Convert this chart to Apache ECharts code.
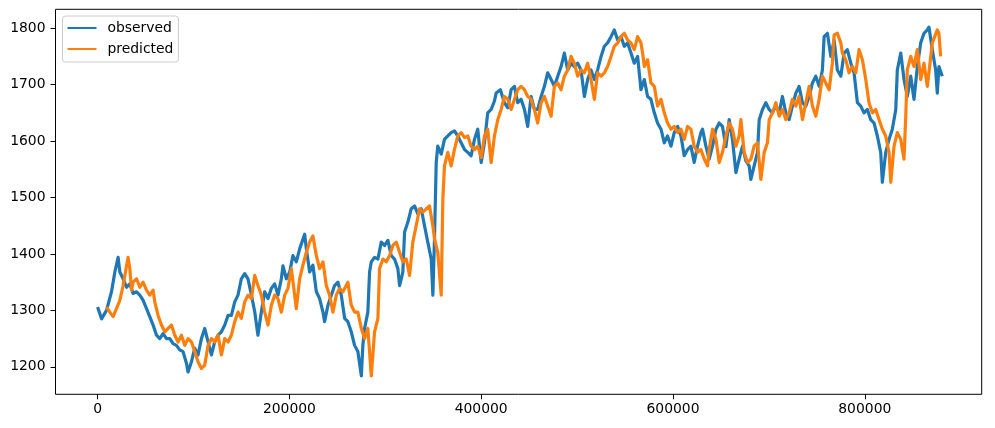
<!DOCTYPE html>
<html>
<head>
<meta charset="utf-8">
<script src="https://cdn.jsdelivr.net/npm/echarts@6/dist/echarts.min.js"></script>
<style>
html,body{margin:0;padding:0;background:#fff;}
#chart{width:995px;height:428px;}
</style>
</head>
<body>
<div id="chart"></div>
<script>
var seriesNames = ['observed', 'predicted'];
var xTicks = [0, 200000, 400000, 600000, 800000];
var yTicks = [1200, 1300, 1400, 1500, 1600, 1700, 1800];

var obsX = [0,4100,9300,14500,18000,21400,23200,26600,30200,33600,37000,40600,44000,47400,51000,54400,57900,61400,64800,68300,71800,75300,78700,82200,85700,89100,92700,94300,97900,101300,104700,108300,111700,115200,118700,122100,125600,129100,132600,136000,139500,143000,146400,149900,153400,156800,160400,163800,167200,170800,174200,177700,181200,184600,188100,191600,193300,196800,200300,203700,207200,210700,215900,217700,221100,224500,228100,231500,235000,236700,240200,243700,247100,250600,254100,257600,261000,264500,268000,271400,275000,276600,278400,281800,283600,285400,288800,292300,295800,299200,302700,306200,309600,313100,314900,318300,320100,323500,327000,330500,333900,337500,340900,344300,347900,349600,351300,353100,354700,358300,361700,365200,368700,372100,375600,379100,382600,386000,389500,393000,396400,400000,403400,406800,410400,413800,415600,420000,424200,427700,431200,434700,438100,441600,445100,448500,452000,455500,458900,462500,465900,469300,472900,476300,479800,483300,486700,490200,493700,497100,500600,504100,507600,511000,514500,518000,521400,525000,528400,531800,535400,538800,542300,545800,549200,552700,556200,559600,563100,566600,570100,573500,577000,580500,583900,587500,590900,594300,597900,601300,604800,608300,611700,615200,618700,622100,625600,629100,630800,634300,637700,641200,644800,648200,651600,655200,658600,662000,665600,669000,672500,676000,679400,681200,684600,688100,689900,693300,696800,700300,703700,707300,710700,714100,717700,721100,724500,728100,731500,735000,738500,742000,745400,748900,752400,755800,757600,761000,764600,768000,771400,775000,778400,781800,785400,788800,792300,795800,799200,802700,806200,809700,813100,816600,818300,821800,825300,828700,832300,833900,837500,840900,844300,847900,851300,854800,858300,861700,865200,866900,870400,873900,875600,877300,880800];
var obsY = [1306,1285,1300,1333,1368,1394,1368,1356,1341,1347,1330,1333,1327,1318,1303,1289,1274,1256,1250,1259,1250,1250,1241,1238,1230,1227,1206,1191,1209,1233,1221,1250,1268,1244,1221,1244,1256,1262,1274,1291,1291,1315,1327,1356,1365,1356,1327,1298,1256,1298,1333,1321,1339,1347,1327,1356,1379,1356,1368,1397,1386,1409,1435,1409,1368,1380,1333,1321,1297,1280,1309,1327,1344,1350,1327,1286,1280,1262,1238,1227,1184,1238,1268,1297,1368,1386,1394,1391,1421,1415,1424,1397,1391,1374,1344,1368,1439,1456,1480,1485,1471,1480,1450,1421,1391,1327,1427,1562,1591,1577,1603,1609,1615,1618,1609,1597,1585,1580,1574,1603,1621,1562,1597,1650,1656,1671,1685,1691,1668,1659,1691,1697,1668,1674,1656,1626,1679,1656,1656,1679,1697,1721,1709,1697,1715,1732,1756,1726,1738,1732,1738,1726,1679,1709,1726,1709,1726,1750,1768,1774,1785,1797,1779,1785,1768,1774,1756,1738,1750,1691,1709,1679,1674,1650,1632,1621,1597,1609,1591,1615,1626,1609,1574,1585,1591,1562,1591,1615,1621,1591,1568,1591,1621,1632,1626,1590,1638,1603,1544,1568,1591,1565,1556,1532,1556,1580,1638,1656,1668,1656,1650,1662,1650,1679,1650,1638,1662,1685,1697,1668,1662,1679,1703,1715,1697,1726,1785,1791,1750,1779,1726,1715,1756,1762,1738,1721,1668,1662,1650,1656,1638,1632,1609,1580,1527,1580,1603,1621,1656,1726,1756,1709,1679,1715,1674,1732,1774,1791,1797,1802,1762,1726,1685,1732,1715];

var predX = [9300,12800,16200,19700,23200,26600,30200,31800,33600,35400,37000,40600,44000,47400,51000,54400,57900,59600,63100,66600,70100,73500,77000,80500,83900,87400,90900,94300,97900,101300,104700,108300,111700,115200,118700,122100,125600,129100,132600,136000,139500,143000,146400,149900,153400,156800,160400,163800,167200,170800,174200,177700,181200,184600,188100,191600,195100,198500,202000,205500,207200,210700,214100,217700,221100,224500,228100,231500,235000,238500,241900,245400,248900,252300,255800,261000,264500,268000,271400,275000,278400,281800,285400,288800,292300,294000,297500,301000,304400,307900,311400,314900,318300,321800,325300,328700,332200,335700,339100,342700,346100,349600,351300,354700,358300,360000,361700,365200,368700,372100,375600,379100,382600,386000,389500,393000,396400,400000,403400,406800,410400,413800,417300,420800,424200,427700,431200,434700,438100,441600,445100,448500,452000,455500,458900,462500,465900,469300,472900,476300,479800,483300,486700,490200,493700,497100,500600,504100,507600,511000,514500,518000,521400,525000,528400,531800,535400,538800,542300,545800,549200,552700,556200,559600,563100,566600,568300,570100,573500,577000,580500,583900,587500,590900,594300,597900,601300,604800,608300,611700,615200,618700,622100,625600,629100,632600,636000,637700,641200,644800,648200,651600,655200,658600,662000,665600,669000,670800,674200,677700,681200,684600,688100,691600,695100,698500,700300,703700,707300,710700,714100,717700,721100,724500,728100,731500,735000,738500,742000,745400,748900,752400,755800,759300,762800,766200,768000,771400,775000,776600,780200,783600,787000,790600,794000,797500,801000,804400,807900,811400,814900,818300,821800,825300,827100,830500,833900,837500,840900,842700,844300,847900,851300,854800,858300,861700,865200,870400,875600,877300,879100];
var predY = [1306,1297,1289,1303,1318,1344,1379,1394,1374,1336,1350,1356,1341,1350,1336,1327,1336,1315,1291,1274,1262,1268,1274,1256,1244,1256,1238,1250,1244,1227,1209,1197,1203,1238,1250,1244,1256,1221,1250,1244,1256,1280,1297,1286,1315,1327,1321,1362,1344,1327,1297,1274,1309,1327,1321,1297,1327,1339,1374,1327,1303,1356,1380,1403,1421,1432,1397,1374,1386,1344,1327,1297,1327,1339,1333,1350,1309,1297,1297,1268,1250,1268,1184,1262,1286,1374,1391,1386,1397,1415,1421,1403,1386,1391,1362,1421,1450,1480,1474,1480,1485,1450,1427,1403,1327,1497,1556,1580,1556,1585,1609,1615,1606,1609,1591,1585,1591,1571,1609,1621,1562,1609,1638,1656,1679,1674,1656,1674,1691,1697,1691,1679,1674,1656,1632,1668,1679,1662,1644,1697,1703,1691,1715,1726,1750,1738,1715,1726,1721,1738,1709,1674,1721,1715,1721,1732,1750,1768,1774,1785,1791,1779,1774,1762,1785,1774,1756,1732,1744,1703,1697,1662,1674,1650,1632,1621,1626,1615,1621,1603,1626,1621,1591,1580,1585,1568,1556,1585,1621,1603,1562,1580,1609,1632,1621,1591,1609,1638,1580,1562,1568,1591,1597,1532,1580,1597,1638,1650,1668,1644,1656,1638,1650,1674,1662,1679,1638,1668,1697,1662,1644,1674,1715,1703,1691,1738,1788,1791,1774,1756,1744,1721,1732,1721,1762,1744,1709,1668,1650,1656,1638,1621,1609,1580,1527,1591,1615,1603,1568,1644,1726,1750,1732,1762,1709,1738,1697,1774,1797,1791,1750];

function zip(xs, ys) {
  var out = [];
  for (var i = 0; i < xs.length; i++) out.push([xs[i], ys[i]]);
  return out;
}

var FONT = 'DejaVu Sans';
var chart = echarts.init(document.getElementById('chart'), null, {renderer: 'canvas'});
chart.setOption({
  animation: false,
  backgroundColor: '#ffffff',
  grid: {left: 55.5, right: 13.3, top: 9.3, bottom: 33.7, show: true, borderColor: '#000', borderWidth: 1, backgroundColor: 'transparent'},
  legend: {
    data: seriesNames,
    orient: 'vertical',
    left: 62.5,
    top: 16,
    icon: 'rect',
    itemWidth: 29,
    itemHeight: 2,
    itemGap: 5,
    padding: [4, 5, 5, 5],
    backgroundColor: 'rgba(255,255,255,0.8)',
    borderColor: '#cccccc',
    borderWidth: 1,
    borderRadius: 3,
    textStyle: {fontFamily: FONT, fontSize: 13.9, color: '#000', lineHeight: 16, padding: [0, 0, 0, 6]}
  },
  xAxis: {
    type: 'value',
    min: -43900,
    max: 921900,
    axisLine: {show: false, onZero: false},
    splitLine: {show: false},
    axisTick: {show: true, customValues: xTicks, length: 5, lineStyle: {color: '#000', width: 1}},
    axisLabel: {customValues: xTicks, margin: 8, fontFamily: FONT, fontSize: 13.9, color: '#000', formatter: function (v) { return String(v); }}
  },
  yAxis: {
    type: 'value',
    min: 1151.3,
    max: 1833.5,
    axisLine: {show: false, onZero: false},
    splitLine: {show: false},
    axisTick: {show: true, customValues: yTicks, length: 5, lineStyle: {color: '#000', width: 1}},
    axisLabel: {customValues: yTicks, margin: 10, fontFamily: FONT, fontSize: 13.9, color: '#000', formatter: function (v) { return String(v); }}
  },
  series: [
    {name: seriesNames[0], type: 'line', data: zip(obsX, obsY), showSymbol: false, symbol: 'none', sampling: null,
     color: '#1f77b4', lineStyle: {color: '#1f77b4', width: 3.2, join: 'round'}, z: 2},
    {name: seriesNames[1], type: 'line', data: zip(predX, predY), showSymbol: false, symbol: 'none', sampling: null,
     color: '#ff7f0e', lineStyle: {color: '#ff7f0e', width: 3.2, join: 'round'}, z: 3}
  ]
});
</script>
</body>
</html>
